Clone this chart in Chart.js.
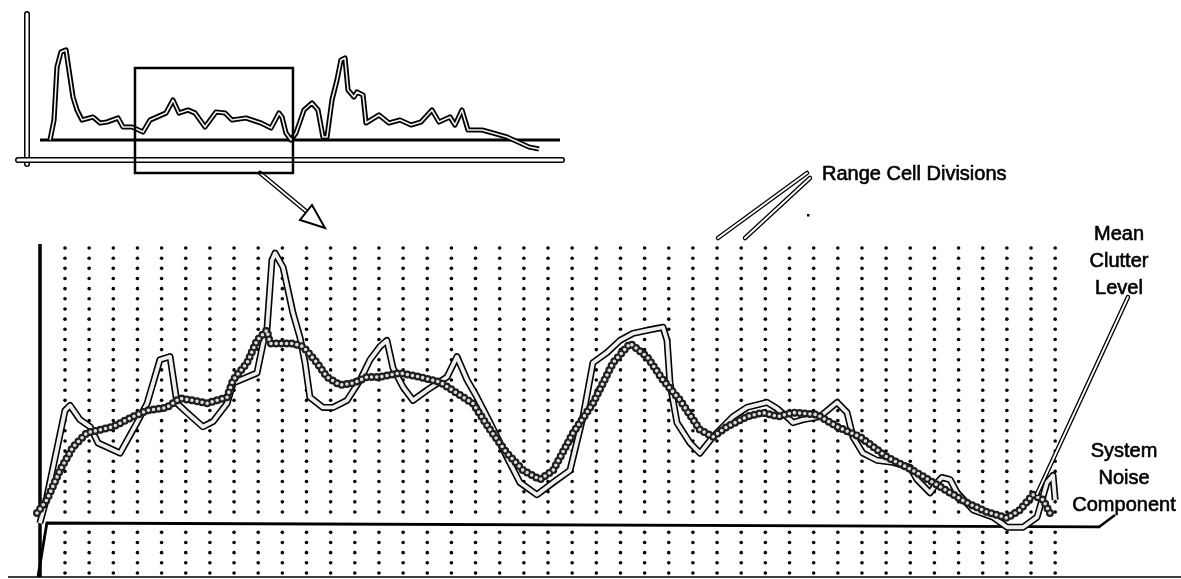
<!DOCTYPE html>
<html>
<head>
<meta charset="utf-8">
<script src="https://cdn.jsdelivr.net/npm/chart.js@4.4.1/dist/chart.umd.min.js"></script>
<style>
  html, body { margin: 0; padding: 0; background: #fff; }
  #wrap { position: relative; width: 1181px; height: 579px; overflow: hidden; }
  #main { position: absolute; left: 0; top: 0; }
  #overview { position: absolute; left: 0; top: 0; }
</style>
</head>
<body>
<div id="wrap">
  <canvas id="main" width="1181" height="579"></canvas>
  <canvas id="overview" width="570" height="180"></canvas>
</div>
<script>
// ===== data (main view: x = range cell, y = return level in grid rows) =====
const rawReturn = [
  [-1.24,0],[-1.04,5.3],[-0.75,7.9],[0,16.4],[0.21,16.9],[0.62,15.5],[1.04,14.8],[1.37,13.2],
  [2.28,12.2],[2.98,15.2],[3.40,17.1],[3.93,21.4],[4.35,21.7],[4.64,17.1],[5.05,16.2],[5.71,14.8],
  [6.13,15.3],[6.71,17.1],[6.96,19.1],[7.95,20.1],[8.20,23.0],[8.36,24.3],[8.57,31.2],[8.70,31.9],
  [9.03,30.5],[9.44,26.0],[9.73,23.6],[9.94,21.1],[10.14,17.7],[10.68,16.7],[11.10,16.7],[11.68,17.4],
  [12.22,19.4],[12.63,21.4],[13.04,22.7],[13.33,23.3],[13.58,20.6],[14.00,18.7],[14.41,17.4],[14.99,18.4],
  [15.82,19.7],[16.23,21.7],[16.65,19.4],[17.06,17.7],[17.60,15.2],[18.30,11.8],[18.84,9.3],[19.54,8.1],
  [20.21,9.3],[20.91,10.5],[21.45,15.8],[21.86,21.1],[22.44,22.1],[22.98,23.3],[23.52,24.0],[24.10,24.3],
  [24.76,24.6],[24.93,23.3],[25.05,19.1],[25.34,15.2],[25.88,13.2],[26.29,12.2],[26.83,13.8],[27.66,15.8],
  [28.24,16.7],[29.07,17.2],[29.48,16.6],[30.02,15.5],[30.14,15.2],[30.56,15.5],[31.26,15.8],[31.97,17.2],
  [32.38,16.2],[32.63,13.8],[33.04,12.2],[33.62,11.5],[34.29,11.3],[34.99,10.8],[35.28,9.6],[35.82,8.3],
  [36.11,9.3],[36.31,9.8],[36.65,9.6],[36.94,8.3],[37.60,6.6],[38.43,5.9],[39.01,4.9],[39.67,4.9],
  [40.25,5.9],[40.66,9.3],[40.91,10.0],[41.0,7.6]
];
const meanClutter = [
  [-1.16,6.3],[-0.75,7.6],[-0.21,10.5],[0.33,12.8],[0.91,14.2],[1.45,14.5],[1.99,14.8],[2.82,15.8],
  [3.40,16.4],[4.22,16.7],[4.76,17.6],[5.30,17.4],[5.88,17.1],[6.71,17.7],[6.96,19.4],[7.54,21.1],
  [7.95,23.3],[8.36,24.3],[8.49,23.0],[9.44,23.0],[9.86,22.7],[10.43,21.1],[10.85,19.7],[11.39,18.9],
  [11.93,19.1],[12.51,19.7],[13.04,19.7],[13.87,20.1],[14.70,19.7],[15.53,19.2],[16.23,18.1],[16.89,17.1],
  [17.60,14.5],[18.30,12.2],[18.97,10.5],[19.67,9.6],[20.21,10.5],[21.04,14.2],[21.86,17.1],[22.69,21.1],
  [23.40,23.0],[24.10,21.7],[24.76,19.4],[25.47,17.4],[26.29,14.5],[26.83,13.8],[27.41,14.8],[28.24,15.8],
  [28.90,16.2],[29.52,15.8],[30.14,16.2],[31.14,16.0],[31.97,14.8],[32.92,13.8],[34.04,11.8],[35.11,10.5],
  [36.23,8.9],[37.35,7.3],[38.18,6.4],[39.01,5.8],[39.54,6.6],[40.08,8.1],[40.50,7.6],[40.87,5.9]
];
const noiseFloor = [[-1.12,0],[-0.75,5.32],[42.86,4.93]];
const rangeCells = 42;      // dotted range cell divisions 0..41
const gridRows = 33;        // dot rows at 0.4 + j
const noiseRow = 5;         // row hidden by the noise line

// ===== data (overview: x = range 0..100, y = level) =====
const overviewReturn = [
  [4.32,2.1],[5.07,4.1],[5.63,9.4],[6.38,10.9],[7.32,11.1],[8.07,8.4],[8.63,6.4],[9.38,5.1],[10.32,4.1],
  [12.38,4.4],[13.70,3.8],[15.01,3.9],[17.07,4.3],[18.01,3.4],[19.70,3.4],[21.76,2.9],[23.08,4.1],
  [24.39,4.4],[26.08,4.8],[27.39,6.1],[28.52,4.8],[30.21,5.1],[31.52,4.8],[33.40,3.4],[35.46,4.9],
  [37.15,4.8],[38.46,4.1],[41.09,4.3],[43.90,3.8],[45.78,3.3],[47.28,4.8],[47.84,4.4],[48.59,2.8],
  [49.53,2.1],[50.47,2.8],[51.97,5.1],[53.47,5.8],[54.60,5.1],[55.53,2.4],[56.29,2.4],[57.22,6.1],
  [58.16,8.1],[58.91,10.1],[59.66,10.3],[60.23,7.1],[61.35,6.4],[61.91,6.9],[63.04,6.6],[63.60,3.8],
  [66.04,4.6],[67.92,3.8],[69.98,4.1],[72.05,3.6],[73.92,3.9],[75.98,5.1],[77.30,3.9],[79.36,4.4],
  [80.30,3.6],[81.61,5.1],[82.74,3.1],[85.37,3.1],[87.43,2.8],[90.06,2.4],[92.12,1.9],[94.18,1.4],[96.06,1.2]
];
const overviewNoise = [[2.44,2.1],[100,2.1]];
const zoomWindow = [20.26, 49.9];   // range shown in the main view
const zoomWindowLevels = [9.3, -1.2];

const pts = arr => arr.map(([x, y]) => ({ x, y }));

// ===== helpers =====
function hollow(ctx, path, outer, inner) {
  ctx.save();
  ctx.lineJoin = 'round'; ctx.lineCap = 'round';
  ctx.beginPath();
  path.forEach(([a, b], i) => i ? ctx.lineTo(a, b) : ctx.moveTo(a, b));
  ctx.strokeStyle = '#000'; ctx.lineWidth = outer; ctx.stroke();
  ctx.strokeStyle = '#fff'; ctx.lineWidth = inner; ctx.stroke();
  ctx.restore();
}
const FONT = '20px "Liberation Sans", Arial, sans-serif';
function label(ctx, text, x, y) {
  ctx.fillText(text, x, y);
  ctx.strokeText(text, x, y);
}

// ===== main view decorations =====
const mainDecor = {
  id: 'mainDecor',
  beforeDatasetsDraw(chart) {
    const { ctx, chartArea, scales: { x, y } } = chart;
    ctx.save();
    ctx.fillStyle = '#000';
    for (let k = 0; k < rangeCells; k++) {
      const px = x.getPixelForValue(k);
      for (let j = 0; j < gridRows; j++) {
        if (j === noiseRow) continue;
        const py = y.getPixelForValue(0.4 + j);
        ctx.beginPath(); ctx.arc(px, py, 1.8, 0, Math.PI * 2); ctx.fill();
      }
    }
    // axes
    ctx.strokeStyle = '#000';
    ctx.lineWidth = 3.5;
    ctx.beginPath();
    ctx.moveTo(chartArea.left, chartArea.top);
    ctx.lineTo(chartArea.left, chartArea.bottom);
    ctx.stroke();
    ctx.lineWidth = 1.6;
    ctx.beginPath();
    ctx.moveTo(8, chartArea.bottom);
    ctx.lineTo(chart.width, chartArea.bottom);
    ctx.stroke();
    ctx.restore();
  },
  afterDraw(chart) {
    const { ctx } = chart;
    ctx.save();
    // arrow from the overview window
    hollow(ctx, [[260, 173], [307, 212]], 4.5, 1.8);
    ctx.lineWidth = 2; ctx.strokeStyle = '#000'; ctx.fillStyle = '#fff';
    ctx.beginPath();
    ctx.moveTo(312, 205); ctx.lineTo(325, 228); ctx.lineTo(300, 220); ctx.closePath();
    ctx.fill(); ctx.stroke();

    // leaders
    hollow(ctx, [[718, 238], [807, 173]], 4.5, 2);
    hollow(ctx, [[745, 238], [810, 178]], 4.5, 2);
    ctx.fillStyle = '#000'; ctx.fillRect(807, 214, 2.5, 2.5);
    hollow(ctx, [[1037, 494], [1128, 297]], 4.5, 1.8);
    ctx.lineWidth = 2.5; ctx.strokeStyle = '#000';
    ctx.beginPath(); ctx.moveTo(1099, 527); ctx.lineTo(1115, 515); ctx.stroke();

    // labels
    ctx.font = FONT; ctx.fillStyle = '#000'; ctx.strokeStyle = '#000'; ctx.lineWidth = 0.6;
    ctx.textBaseline = 'alphabetic';
    ctx.textAlign = 'left';
    label(ctx, 'Range Cell Divisions', 822, 180);
    ctx.textAlign = 'center';
    label(ctx, 'Mean', 1119, 240);
    label(ctx, 'Clutter', 1119, 267);
    label(ctx, 'Level', 1119, 294);
    label(ctx, 'System', 1124, 457);
    label(ctx, 'Noise', 1124, 484);
    label(ctx, 'Component', 1124, 511);
    ctx.restore();
  }
};

const beadDash = [0, 5.2];
new Chart(document.getElementById('main'), {
  type: 'line',
  data: {
    datasets: [
      { data: pts(meanClutter), borderColor: '#dcdcdc', borderWidth: 3.6, borderDash: beadDash,
        borderCapStyle: 'round', order: 0, clip: false },
      { data: pts(meanClutter), borderColor: '#1e1e1e', borderWidth: 8, borderDash: beadDash,
        borderCapStyle: 'round', order: 1, clip: false },
      { data: pts(rawReturn), borderColor: '#eeeeee', borderWidth: 3.8, borderJoinStyle: 'round',
        order: 2, clip: false },
      { data: pts(rawReturn), borderColor: '#000', borderWidth: 7, borderJoinStyle: 'round',
        order: 3, clip: false },
      { data: pts(noiseFloor), borderColor: '#000', borderWidth: 2.8, order: 4, clip: false }
    ]
  },
  options: {
    responsive: false, animation: false, devicePixelRatio: 1,
    layout: { padding: { left: 40, right: 0, top: 244, bottom: 2 } },
    scales: {
      x: { type: 'linear', display: false, min: -1.035, max: 46.21 },
      y: { type: 'linear', display: false, min: 0, max: 32.8 }
    },
    plugins: { legend: { display: false }, tooltip: { enabled: false } },
    elements: { point: { radius: 0 }, line: { tension: 0 } }
  },
  plugins: [mainDecor]
});

// ===== overview =====
const overviewDecor = {
  id: 'overviewDecor',
  afterDraw(chart) {
    const { ctx, chartArea, scales: { x, y } } = chart;
    ctx.save();
    hollow(ctx, [[chartArea.left, chartArea.top], [chartArea.left, chartArea.bottom + 3]], 6, 3);
    hollow(ctx, [[18, chartArea.bottom - 1], [chartArea.right + 2, chartArea.bottom - 1]], 6, 3);
    const l = x.getPixelForValue(zoomWindow[0]), r = x.getPixelForValue(zoomWindow[1]);
    const t = y.getPixelForValue(zoomWindowLevels[0]), b = y.getPixelForValue(zoomWindowLevels[1]);
    ctx.strokeStyle = '#000'; ctx.lineWidth = 2.5;
    ctx.strokeRect(l, t, r - l, b - t);
    ctx.restore();
  }
};

new Chart(document.getElementById('overview'), {
  type: 'line',
  data: {
    datasets: [
      { data: pts(overviewReturn), borderColor: '#f2f2f2', borderWidth: 1.6, borderJoinStyle: 'round',
        order: 0, clip: false },
      { data: pts(overviewReturn), borderColor: '#000', borderWidth: 5.2, borderJoinStyle: 'round',
        order: 1, clip: false },
      { data: pts(overviewNoise), borderColor: '#000', borderWidth: 3, order: 2, clip: false }
    ]
  },
  options: {
    responsive: false, animation: false, devicePixelRatio: 1,
    layout: { padding: { left: 27, right: 10, top: 14, bottom: 19 } },
    scales: {
      x: { type: 'linear', display: false, min: 0, max: 100 },
      y: { type: 'linear', display: false, min: 0, max: 14.7 }
    },
    plugins: { legend: { display: false }, tooltip: { enabled: false } },
    elements: { point: { radius: 0 }, line: { tension: 0 } }
  },
  plugins: [overviewDecor]
});
</script>
</body>
</html>
